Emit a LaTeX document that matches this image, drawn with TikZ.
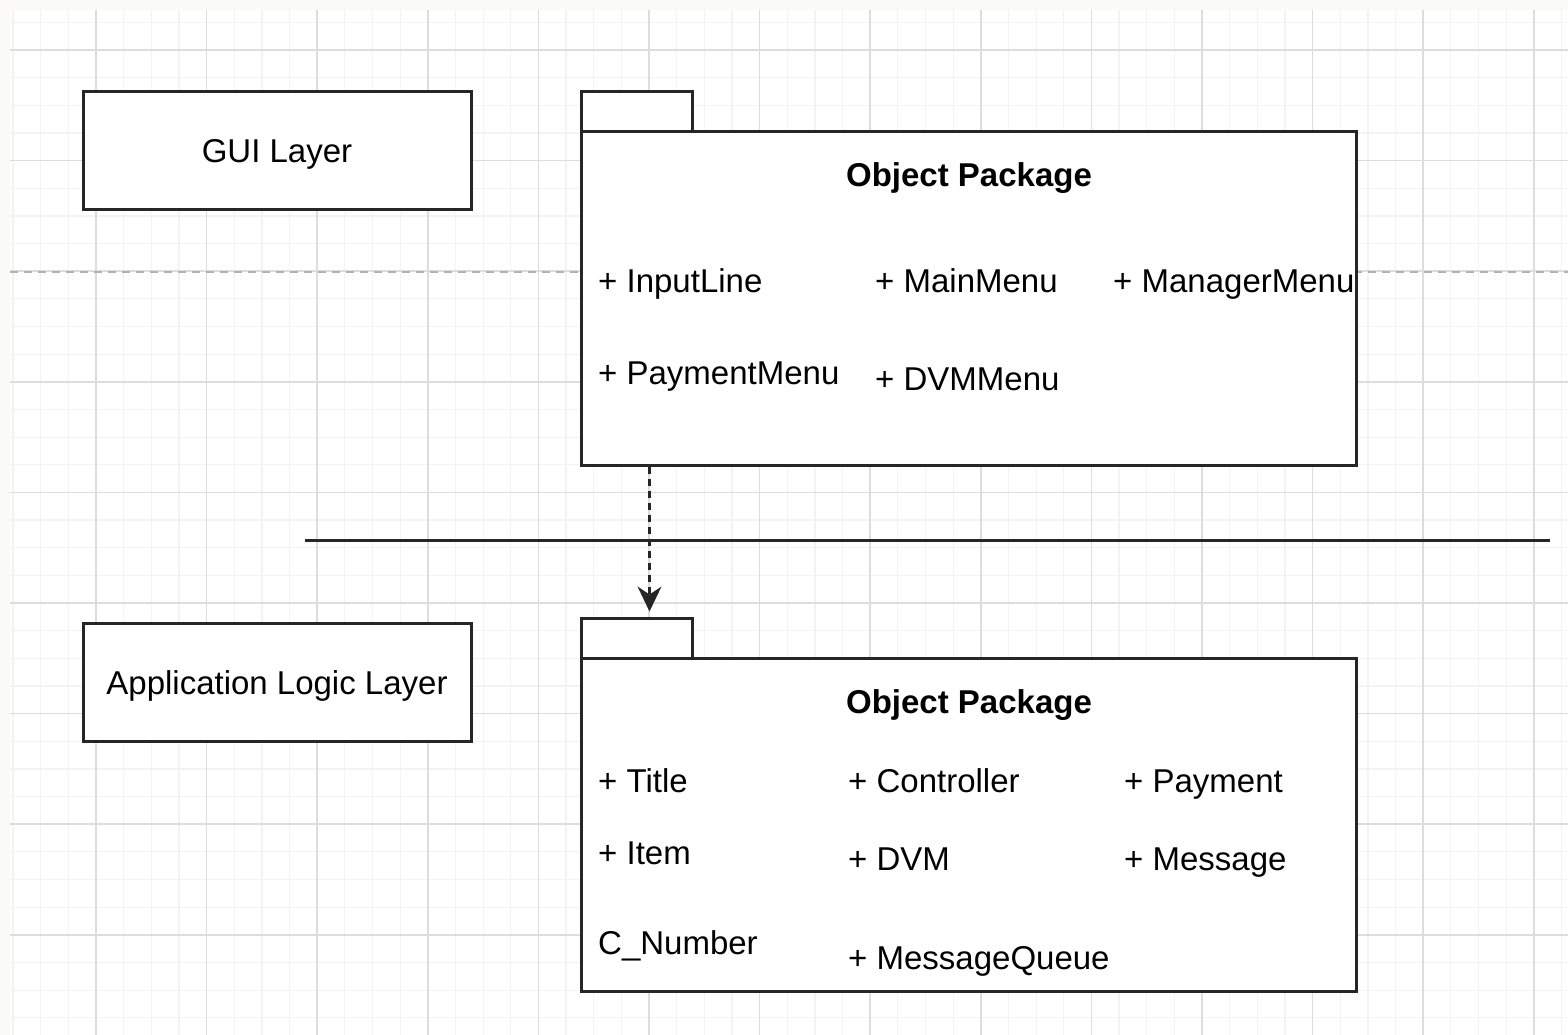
\documentclass[tikz,border=0pt]{standalone}
\usepackage{fontspec}
\setmainfont{Liberation Sans}
\usetikzlibrary{positioning,arrows.meta,calc}
\definecolor{bgcol}{HTML}{FBFAF6}
\definecolor{linecol}{HTML}{262626}
\definecolor{minorcol}{HTML}{F3F3F3}
\definecolor{majorcol}{HTML}{DDDDDD}
\begin{document}
\begin{tikzpicture}[x=1pt,y=-1pt,
  box/.style={draw=linecol,line width=3pt,fill=white,rectangle,inner sep=0pt,text height=24pt,text depth=0pt,font=\fontsize{33}{40}\selectfont},
  title/.style={anchor=base,inner sep=0pt,font=\fontsize{33}{40}\selectfont\bfseries},
  item/.style={anchor=base west,inner sep=0pt,font=\fontsize{33}{40}\selectfont},
  gridminor/.style={draw=minorcol,line width=1.2pt},
  gridmajor/.style={draw=majorcol,line width=1.5pt}]
  \useasboundingbox (0,0) rectangle (1568,1035);
  \fill[bgcol] (0,0) rectangle (1568,1035);
  \fill[white] (10,10) rectangle (1568,1035);
  % grid
  \foreach \i in {0,...,56} \draw[gridminor] ({13.05+27.65*\i},10) -- ({13.05+27.65*\i},1035);
  \foreach \i in {0,...,36} \draw[gridminor] (10,{22.35+27.65*\i}) -- (1568,{22.35+27.65*\i});
  \foreach \i in {0,...,13} \draw[gridmajor] ({96+110.6*\i},10) -- ({96+110.6*\i},1035);
  \foreach \i in {0,...,8} \draw[gridmajor] (10,{50+110.6*\i}) -- (1568,{50+110.6*\i});

  % layer separators
  \coordinate (d1) at (10,272);
  \coordinate (d2) at (1568,272);
  \draw[gray!60,line width=1.8pt,dash pattern=on 8pt off 6pt] (d1) -- (d2);
  \coordinate (s1) at (305,540);
  \coordinate (s2) at (1550,540);
  \draw[linecol,line width=3pt] (s1) -- (s2);

  % layers
  \node[box,minimum width=388pt,minimum height=118pt] (gui) at (277,151) {GUI Layer};
  \node[box,minimum width=388pt,minimum height=118pt] (app) at (277,682) {Application Logic Layer};

  % GUI package
  \node[box,minimum width=111pt,minimum height=40pt] (tab1) at (636.5,112) {};
  \node[box,minimum width=775pt,minimum height=333pt] (pkg1) at (968.5,298.5) {};
  \node[title] (t1) at (969,187) {Object Package};
  \node[item] (inputline) at (598,292) {+ InputLine};
  \node[item] (mainmenu) at (875,292) {+ MainMenu};
  \node[item] (managermenu) at (1113,292) {+ ManagerMenu};
  \node[item] (paymentmenu) at (598,384) {+ PaymentMenu};
  \node[item] (dvmmenu) at (875,390) {+ DVMMenu};

  % logic package
  \node[box,minimum width=111pt,minimum height=40pt] (tab2) at (636.5,638) {};
  \node[box,minimum width=775pt,minimum height=333pt] (pkg2) at (968.5,824.5) {};
  \node[title] (t2) at (969,713) {Object Package};
  \node[item] (title) at (598,792) {+ Title};
  \node[item] (controller) at (848,792) {+ Controller};
  \node[item] (payment) at (1124,792) {+ Payment};
  \node[item] (itm) at (598,864) {+ Item};
  \node[item] (dvm) at (848,870) {+ DVM};
  \node[item] (message) at (1124,870) {+ Message};
  \node[item] (cnumber) at (598,954) {C\_Number};
  \node[item] (queue) at (848,969) {+ MessageQueue};

  \draw[linecol,line width=3pt,dash pattern=on 7pt off 5pt,-{Stealth[length=25pt,width=24pt,inset=8pt,line width=0pt]},shorten >=5pt]
    ([xshift=70pt]pkg1.south west) -- ([xshift=70pt]tab2.north west);
\end{tikzpicture}
\end{document}
